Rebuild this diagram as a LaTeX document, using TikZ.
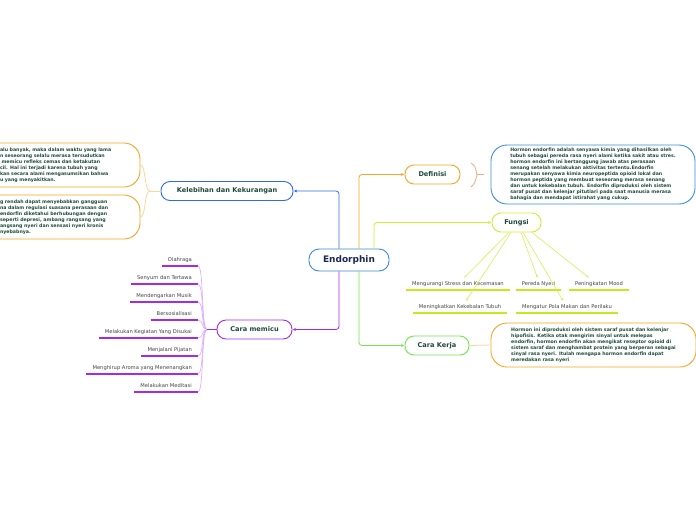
\documentclass[tikz,border=0pt]{standalone}
\usepackage{fontspec}
\setmainfont{DejaVu Sans}
\usetikzlibrary{arrows.meta}
\definecolor{cEndo}{HTML}{3A8BD8}
\definecolor{cKB}{HTML}{2F6BE8}
\definecolor{cDefB}{HTML}{3A8FD8}
\definecolor{cOrange}{HTML}{F5A623}
\definecolor{cPeach}{HTML}{FFD59A}
\definecolor{cSalmon}{HTML}{F2A98A}
\definecolor{cYG}{HTML}{CCEE33}
\definecolor{cYGU}{HTML}{C4EA1C}
\definecolor{cYGL}{HTML}{D8F050}
\definecolor{cGreen}{HTML}{6BEA4B}
\definecolor{cPurple}{HTML}{A52AE8}
\definecolor{cPurpleL}{HTML}{DDB0FF}
\definecolor{cText}{HTML}{1E4A3C}
\definecolor{cNavy}{HTML}{1B2A55}
\definecolor{cGray}{HTML}{444444}
\tikzset{
  mainnode/.style={draw=cEndo, line width=0.9, rounded corners=10, minimum width=80, minimum height=22, inner sep=0, fill=white, text=cNavy, font=\bfseries\fontsize{9}{10}\selectfont},
  topic/.style={line width=0.9, rounded corners=9, minimum height=19, inner sep=0, fill=white, text=cText, font=\bfseries\fontsize{6.6}{7}\selectfont},
  bigbox/.style={line width=0.9, rounded corners=16, inner sep=0, align=left, text=cText, font=\bfseries\fontsize{4.7}{6}\selectfont},
  arr/.style={line width=0.8, rounded corners=3, -{Latex[length=3.2,width=3]}},
  fitem/.style={inner xsep=6, inner ysep=0, minimum height=12, text=cGray, font=\fontsize{5.2}{6}\selectfont},
  ful/.style={cYGU, line width=1.6},
  farr/.style={cYGL, line width=0.6, -{Latex[length=2.5,width=2.2]}},
  pul/.style={cPurple, line width=1.2},
  pcurve/.style={cPurpleL, line width=0.7}
}
\begin{document}
\begin{tikzpicture}[x=1pt,y=-1pt]
\clip (0,0) rectangle (696,520);
\fill[white] (0,0) rectangle (696,520);

% central and topic nodes
\node[mainnode] (endo) at (349,260) {Endorphin};
\node[topic, draw=cKB, minimum width=132] (keleb) at (227,191) {Kelebihan dan Kekurangan};
\node[topic, draw=cPurple, minimum width=75] (cara) at (254.5,329.5) {Cara memicu};
\node[topic, draw=cOrange, minimum width=55] (def) at (432.5,174.5) {Definisi};
\node[topic, draw=cYG, minimum width=49] (fungsi) at (516.5,222.5) {Fungsi};
\node[topic, draw=cGreen, minimum width=64] (kerja) at (437,345.5) {Cara Kerja};

% main connectors
\draw[arr, cKB] ([xshift=-10]endo.north) |- (keleb.east);
\draw[arr, cOrange] ([xshift=10]endo.north) |- (def.west);
\draw[arr, cYG] ([xshift=25]endo.north) |- (fungsi.west);
\draw[arr, cPurple] ([xshift=-10]endo.south) |- (cara.east);
\draw[arr, cGreen] ([xshift=10]endo.south) |- (kerja.west);

% Kelebihan boxes
\node[bigbox, draw=cOrange, minimum width=168, minimum height=44, text width=112] (kb1) at (56,165) {%
\mbox{alu banyak, maka dalam waktu yang lama}\\
\mbox{n seseorang selalu merasa tersudutkan}\\
\mbox{\ memicu refleks cemas dan ketakutan}\\
\mbox{cil. Hal ini terjadi karena tubuh yang}\\
\mbox{kan secara alami mengasumsikan bahwa}\\
\mbox{u yang menyakitkan.}};
\node[bigbox, draw=cOrange, minimum width=168, minimum height=44, text width=112] (kb2) at (56,217) {%
\mbox{g rendah dapat menyebabkan gangguan}\\
\mbox{na dalam regulasi suasana perasaan dan}\\
\mbox{endorfin diketahui berhubungan dengan}\\
\mbox{seperti depresi, ambang rangsang yang}\\
\mbox{angsang nyeri dan sensasi nyeri kronis}\\
\mbox{nyebabnya.}};
\coordinate (kbhub) at (150,191);
\draw[cPeach, line width=0.8] (keleb.west) -- (kbhub);
\draw[cPeach, line width=0.8] (kbhub) .. controls (144,191) and (146,165) .. (kb1.east);
\draw[cPeach, line width=0.8] (kbhub) .. controls (144,191) and (146,217) .. (kb2.east);

% Definisi box
\node[bigbox, draw=cDefB, minimum width=204, minimum height=59] (defbox) at (593,174.5) {%
Hormon endorfin adalah senyawa kimia yang dihasilkan oleh\\
tubuh sebagai pereda rasa nyeri alami ketika sakit atau stres.\\
hormon endorfin ini bertanggung jawab atas perasaan\\
senang setelah melakukan aktivitas tertentu.Endorfin\\
merupakan senyawa kimia neuropeptida opioid lokal dan\\
hormon peptida yang membuat seseorang merasa senang\\
dan untuk kekebalan tubuh. Endorfin diproduksi oleh sistem\\
saraf pusat dan kelenjar pitutiari pada saat manusia merasa\\
bahagia dan mendapat istirahat yang cukup.};
\coordinate (dbt) at (471,163);
\coordinate (dbm) at (477,174.5);
\coordinate (dbb) at (471,187);
\draw[cSalmon, line width=0.8] (dbt) .. controls (475,166) .. (dbm) .. controls (475,183) .. (dbb);
\draw[cSalmon, line width=0.8] (dbm) -- (484,174.5);

% Cara Kerja box
\node[bigbox, draw=cOrange, minimum width=205, minimum height=44] (kerjabox) at (593.5,345) {%
Hormon ini diproduksi oleh sistem saraf pusat dan kelenjar\\
hipofisis. Ketika otak mengirim sinyal untuk melepas\\
endorfin, hormon endorfin akan mengikat reseptor opioid di\\
sistem saraf dan menghambat protein yang berperan sebagai\\
sinyal rasa nyeri. Itulah mengapa hormon endorfin dapat\\
meredakan rasa nyeri};
\draw[cPeach, line width=0.8] (kerja.east) -- (kerjabox.west);

% Fungsi items
\node[fitem] (f1) at (458,284) {Mengurangi Stress dan Kecemasan};
\node[fitem] (f2) at (538.5,284) {Pereda Nyeri};
\node[fitem] (f3) at (599,284) {Peningkatan Mood};
\node[fitem] (f4) at (460,307) {Meningkatkan Kekebalan Tubuh};
\node[fitem] (f5) at (567,307) {Mengatur Pola Makan dan Perilaku};
\foreach \n in {f1,f2,f3,f4,f5} {\draw[ful] (\n.south west) -- (\n.south east);}
\draw[farr] ([xshift=-7.5]fungsi.south) -- ([xshift=6]f1.north);
\draw[farr] ([xshift=-5.5]fungsi.south) -- ([xshift=6]f4.north);
\draw[farr] ([xshift=4.5]fungsi.south) -- ([xshift=-1]f2.north);
\draw[farr] ([xshift=6.5]fungsi.south) -- ([xshift=-4]f5.north);
\draw[farr] ([xshift=15.5]fungsi.south) -- ([xshift=-10]f3.north);

% Cara memicu items
\node[fitem, anchor=south east] (c1) at (198,266) {Olahraga};
\node[fitem, anchor=south east] (c2) at (198,284) {Senyum dan Tertawa};
\node[fitem, anchor=south east] (c3) at (198,302) {Mendengarkan Musik};
\node[fitem, anchor=south east] (c4) at (198,320) {Bersosialisasi};
\node[fitem, anchor=south east] (c5) at (198,338) {Melakukan Kegiatan Yang Disukai};
\node[fitem, anchor=south east] (c6) at (198,356) {Menjalani Pijatan};
\node[fitem, anchor=south east] (c7) at (198,374) {Menghirup Aroma yang Menenangkan};
\node[fitem, anchor=south east] (c8) at (198,392) {Melakukan Meditasi};
\coordinate (chub) at (207,329.5);
\foreach \n in {c1,c2,c3,c4,c5,c6,c7,c8} {
  \draw[pul] (\n.south west) -- (\n.south east);
  \draw[pcurve] (\n.south east) .. controls ([xshift=6]\n.south east) and (201,329.5) .. (chub);
}
\draw[cPurple, line width=0.9] (chub) -- (cara.west);
\end{tikzpicture}
\end{document}
